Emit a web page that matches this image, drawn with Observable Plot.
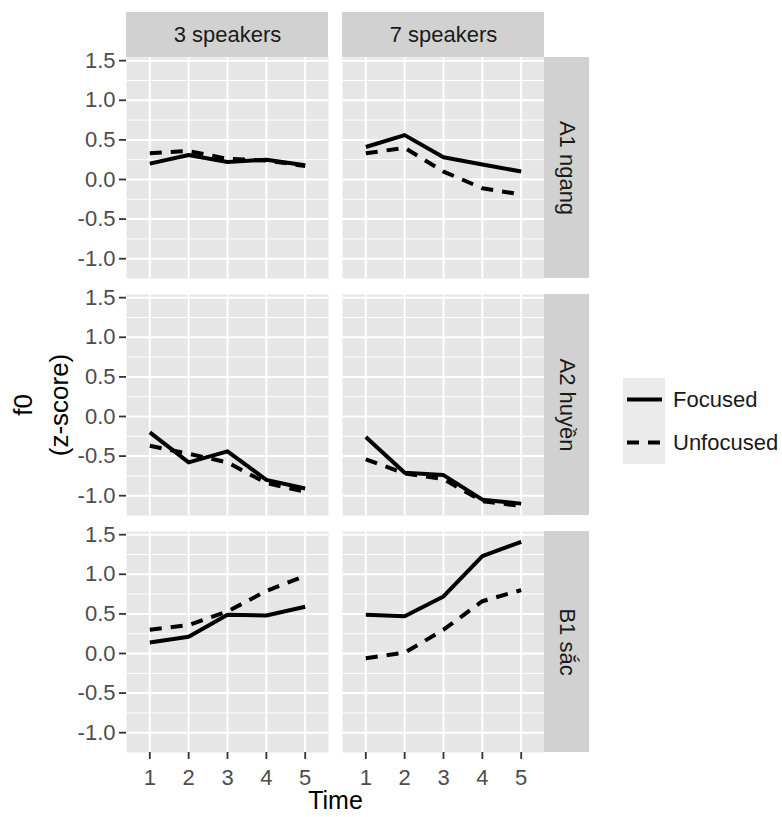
<!DOCTYPE html>
<html><head><meta charset="utf-8">
<script src="https://cdn.jsdelivr.net/npm/d3@7"></script>
<script src="https://cdn.jsdelivr.net/npm/@observablehq/plot@0.6"></script>
<style>
body{margin:0;background:#fff;font-family:"Liberation Sans",Arial,Helvetica,sans-serif;}
#wrap{position:relative;width:782px;height:817px;}
#legend{position:absolute;left:623px;top:378px;}
.row{display:flex;align-items:center;height:43px;}
.key{width:42px;height:43px;display:block;}
.lab{margin-left:8px;font-size:22px;color:#1a1a1a;}
</style></head><body><div id="wrap"></div>
<script>
// ---- data ----
const times = [1, 2, 3, 4, 5];
const speakers = ["3 speakers", "7 speakers"];
const tones = ["A1 ngang", "A2 huyền", "B1 sắc"];
const focusLevels = ["Focused", "Unfocused"];

const a1_3_focused   = [0.20, 0.31, 0.22, 0.25, 0.18];
const a1_3_unfocused = [0.33, 0.36, 0.26, 0.24, 0.17];
const a1_7_focused   = [0.41, 0.56, 0.28, 0.19, 0.10];
const a1_7_unfocused = [0.33, 0.40, 0.10, -0.11, -0.19];
const a2_3_focused   = [-0.20, -0.58, -0.44, -0.80, -0.91];
const a2_3_unfocused = [-0.37, -0.47, -0.58, -0.84, -0.95];
const a2_7_focused   = [-0.26, -0.71, -0.74, -1.05, -1.10];
const a2_7_unfocused = [-0.54, -0.72, -0.79, -1.07, -1.13];
const b1_3_focused   = [0.14, 0.21, 0.49, 0.48, 0.59];
const b1_3_unfocused = [0.30, 0.36, 0.53, 0.79, 0.98];
const b1_7_focused   = [0.49, 0.47, 0.72, 1.23, 1.41];
const b1_7_unfocused = [-0.06, 0.01, 0.30, 0.66, 0.80];

const yMajor = [-1, -0.5, 0, 0.5, 1, 1.5];
const yMinor = [-0.75, -0.25, 0.25, 0.75, 1.25];

// ---- table ----
const seriesList = [
  [tones[0], speakers[0], focusLevels[0], a1_3_focused],
  [tones[0], speakers[0], focusLevels[1], a1_3_unfocused],
  [tones[0], speakers[1], focusLevels[0], a1_7_focused],
  [tones[0], speakers[1], focusLevels[1], a1_7_unfocused],
  [tones[1], speakers[0], focusLevels[0], a2_3_focused],
  [tones[1], speakers[0], focusLevels[1], a2_3_unfocused],
  [tones[1], speakers[1], focusLevels[0], a2_7_focused],
  [tones[1], speakers[1], focusLevels[1], a2_7_unfocused],
  [tones[2], speakers[0], focusLevels[0], b1_3_focused],
  [tones[2], speakers[0], focusLevels[1], b1_3_unfocused],
  [tones[2], speakers[1], focusLevels[0], b1_7_focused],
  [tones[2], speakers[1], focusLevels[1], b1_7_unfocused]
];
const data = seriesList.flatMap(([tone, sp, focus, vals]) =>
  vals.map((v, i) => ({tone, speakers: sp, focus, time: times[i], f0: v})));

const xDomain = [0.4, 5.6];
const yDomain = [-1.25, 1.54];
const stripSize = 45;
const topStrip = speakers.map(s => ({speakers: s, tone: tones[0]}));
const rightStrip = tones.map(t => ({speakers: speakers[speakers.length - 1], tone: t}));

const font = '"Liberation Sans", Arial, Helvetica, sans-serif';
const dash = "12,9";

const chart = Plot.plot({
  width: 782, height: 817,
  marginLeft: 126, marginRight: 238, marginTop: 57, marginBottom: 65,
  style: {fontFamily: font, background: "transparent", overflow: "visible"},
  x: {domain: xDomain, axis: null},
  y: {domain: yDomain, axis: null},
  fx: {domain: speakers, axis: null, paddingInner: 0.065, paddingOuter: 0},
  fy: {domain: tones, axis: null, paddingInner: 0.068, paddingOuter: 0},
  marks: [
    Plot.frame({fill: "#e6e6e6", stroke: "none"}),
    Plot.ruleY(yMinor, {stroke: "white", strokeWidth: 1}),
    Plot.ruleY(yMajor, {stroke: "white", strokeWidth: 2}),
    Plot.ruleX(times, {stroke: "white", strokeWidth: 2}),
    Plot.rect(topStrip, {fx: "speakers", fy: "tone", x1: xDomain[0], x2: xDomain[1], y1: yDomain[1], y2: yDomain[1], insetTop: -stripSize, fill: "#d1d1d1"}),
    Plot.rect(rightStrip, {fx: "speakers", fy: "tone", x1: xDomain[1], x2: xDomain[1], y1: yDomain[0], y2: yDomain[1], insetRight: -stripSize, fill: "#d1d1d1"}),
    Plot.text(topStrip, {fx: "speakers", fy: "tone", text: "speakers", frameAnchor: "top", textAnchor: "middle", lineAnchor: "middle", dy: -stripSize / 2, fontSize: 22, fill: "#1a1a1a"}),
    Plot.text(rightStrip, {fx: "speakers", fy: "tone", text: "tone", frameAnchor: "right", textAnchor: "middle", lineAnchor: "middle", dx: stripSize / 2, rotate: 90, fontSize: 22, fill: "#1a1a1a"}),
    Plot.line(data.filter(d => d.focus === focusLevels[0]), {fx: "speakers", fy: "tone", x: "time", y: "f0", stroke: "black", strokeWidth: 4, strokeLinejoin: "round", strokeLinecap: "butt"}),
    Plot.line(data.filter(d => d.focus === focusLevels[1]), {fx: "speakers", fy: "tone", x: "time", y: "f0", stroke: "black", strokeWidth: 4, strokeDasharray: dash, strokeLinejoin: "round", strokeLinecap: "butt"}),
    Plot.axisY({anchor: "left", ticks: yMajor, tickFormat: d => d.toFixed(1), tickSize: 7, tickPadding: 4, fontSize: 22, color: "#4d4d4d", stroke: "#333", strokeWidth: 1.8, label: null}),
    Plot.axisX({anchor: "bottom", ticks: times, tickFormat: d => String(d), tickSize: 7, tickPadding: 10, fontSize: 22, color: "#4d4d4d", stroke: "#333", strokeWidth: 1.8, label: null}),
    Plot.text(["Time"], {facet: "super", frameAnchor: "bottom", textAnchor: "middle", lineAnchor: "middle", dy: 48, fontSize: 25, fill: "black"}),
    Plot.text(["f0\n(z-score)"], {facet: "super", frameAnchor: "left", textAnchor: "middle", lineAnchor: "middle", dx: -88, rotate: -90, fontSize: 26, lineHeight: 1.38, fill: "black"})
  ]
});

const wrap = document.getElementById("wrap");
wrap.appendChild(chart);

// legend
const legend = document.createElement("div");
legend.id = "legend";
focusLevels.forEach((lev, i) => {
  const row = document.createElement("div");
  row.className = "row";
  row.innerHTML = `<svg class="key" width="42" height="43"><rect width="42" height="43" fill="#ebebeb"/><line x1="4" x2="39" y1="21.5" y2="21.5" stroke="black" stroke-width="4" ${i === 1 ? `stroke-dasharray="${dash}"` : ""}/></svg><span class="lab">${lev}</span>`;
  legend.appendChild(row);
});
wrap.appendChild(legend);
</script>
</body></html>
